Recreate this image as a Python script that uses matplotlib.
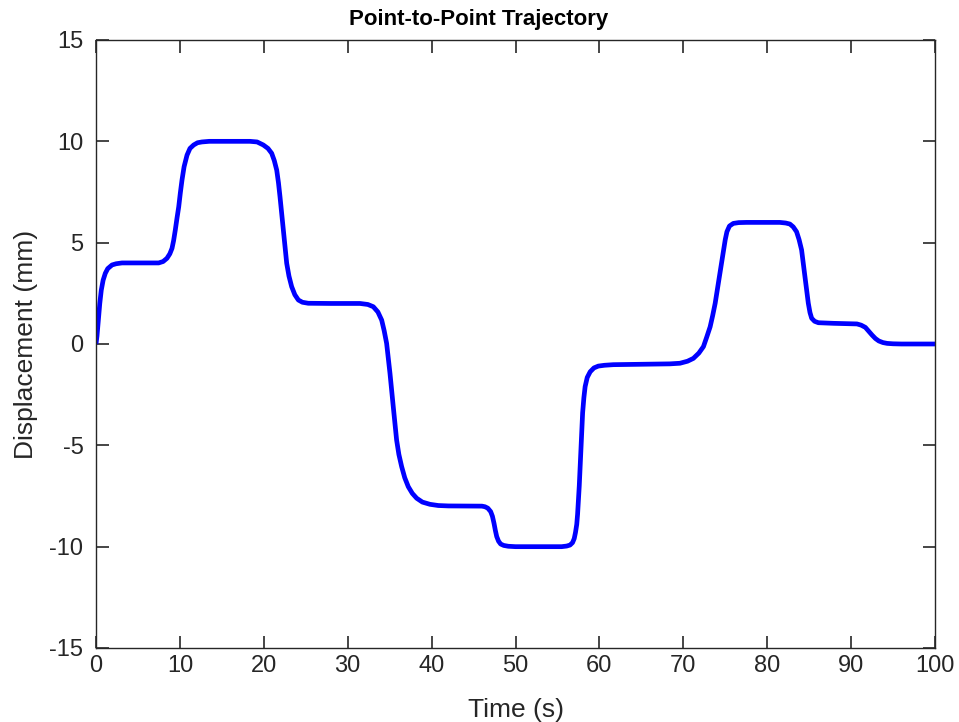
import matplotlib
matplotlib.use("Agg")
import matplotlib.pyplot as plt

# Time (s) and displacement (mm)
time_s = [0.0, 0.12, 0.2, 0.32, 0.45, 0.63, 0.85, 1.11, 1.4, 1.91, 2.4, 3.1, 5.0, 7.47,
          8.0, 8.46, 8.8, 9.06, 9.25, 9.45, 9.65, 9.86, 10.05, 10.25, 10.5, 10.85, 11.2,
          11.64, 12.1, 12.63, 13.5, 18.35, 19.2, 19.94, 20.5, 20.94, 21.25, 21.54, 21.75,
          21.93, 22.13, 22.33, 22.53, 22.73, 23.0, 23.32, 23.7, 24.12, 24.6, 25.3, 28.0,
          31.47, 32.4, 33.05, 33.6, 34.05, 34.35, 34.64, 34.84, 35.04, 35.23, 35.43, 35.63,
          35.83, 36.1, 36.43, 36.8, 37.22, 37.7, 38.22, 38.9, 39.8, 40.8, 42.0, 46.0, 46.36,
          46.7, 47.04, 47.25, 47.44, 47.6, 47.76, 47.98, 48.23, 48.6, 49.14, 50.0, 55.5,
          56.1, 56.5, 56.8, 57.0, 57.15, 57.3, 57.4, 57.5, 57.6, 57.7, 57.8, 57.9, 58.0,
          58.15, 58.3, 58.55, 58.9, 59.35, 59.87, 60.6, 61.66, 65.0, 68.4, 69.6, 70.5, 71.2,
          71.85, 72.4, 72.8, 73.2, 73.5, 73.8, 74.05, 74.3, 74.55, 74.8, 75.0, 75.2, 75.5,
          75.96, 76.6, 77.55, 81.5, 82.2, 82.7, 83.1, 83.5, 83.8, 84.1, 84.3, 84.5, 84.7,
          84.9, 85.1, 85.3, 85.65, 86.1, 87.9, 90.0, 90.7, 91.2, 91.7, 92.1, 92.5, 92.9,
          93.3, 93.8, 94.3, 95.0, 96.0, 100.0]
displacement_mm = [0.0, 0.4, 0.8, 1.35, 2.0, 2.66, 3.15, 3.49, 3.72, 3.9, 3.96, 4.0, 4.0, 4.0,
                   4.07, 4.23, 4.45, 4.72, 5.1, 5.62, 6.2, 6.77, 7.45, 8.09, 8.75, 9.32, 9.65,
                   9.82, 9.93, 9.97, 10.0, 10.0, 9.97, 9.82, 9.65, 9.41, 9.05, 8.58, 7.95,
                   7.27, 6.45, 5.62, 4.78, 3.98, 3.35, 2.83, 2.43, 2.17, 2.06, 2.01, 2.0,
                   2.0, 1.95, 1.84, 1.58, 1.18, 0.65, 0.03, -0.7, -1.45, -2.27, -3.09, -3.92,
                   -4.74, -5.45, -6.05, -6.6, -7.04, -7.37, -7.61, -7.8, -7.91, -7.97, -7.99, -8.0, -8.03,
                   -8.1, -8.27, -8.5, -8.85, -9.2, -9.5, -9.73, -9.87, -9.94, -9.98, -10.0, -10.0,
                   -9.97, -9.92, -9.8, -9.6, -9.3, -8.9, -8.4, -7.7, -7.0, -6.1, -5.2, -4.3, -3.4,
                   -2.65, -2.1, -1.65, -1.37, -1.18, -1.09, -1.05, -1.02, -1.0, -0.98, -0.95, -0.85, -0.71,
                   -0.45, -0.13, 0.35, 0.85, 1.4, 2.01, 2.65, 3.32, 3.98, 4.64, 5.15, 5.54, 5.82,
                   5.95, 5.99, 6.0, 6.0, 5.97, 5.92, 5.78, 5.54, 5.15, 4.64, 4.0, 3.32, 2.65,
                   2.01, 1.55, 1.27, 1.12, 1.05, 1.02, 1.0, 0.99, 0.93, 0.82, 0.63, 0.44, 0.27,
                   0.15, 0.07, 0.03, 0.01, 0.0, 0.0]

x_ticks = [0, 10, 20, 30, 40, 50, 60, 70, 80, 90, 100]
y_ticks = [-15, -10, -5, 0, 5, 10, 15]

plt.rcParams['font.family'] = ['Liberation Sans', 'DejaVu Sans']

fig = plt.figure(figsize=(9.59, 7.22), dpi=100)
ax = fig.add_axes([96/959, 1 - 648/722, (935-96)/959, (648-40)/722])

ax.plot(time_s, displacement_mm, color='#0000ff', linewidth=3.4,
        solid_joinstyle='round', solid_capstyle='butt')

ax.set_xlim(0, 100)
ax.set_ylim(-15, 15)
ax.set_xticks(x_ticks)
ax.set_yticks(y_ticks)
ax.set_xticklabels([str(v) for v in x_ticks])
ax.set_yticklabels([str(v) for v in y_ticks])

dark = '#262626'
for s in ax.spines.values():
    s.set_color(dark)
    s.set_linewidth(1.0)
ax.tick_params(direction='in', length=9, width=1.2, colors=dark, labelsize=17,
               top=True, right=True)
ax.tick_params(axis='y', pad=9)
ax.tick_params(axis='x', pad=5)

ax.set_xlabel('Time (s)', fontsize=19, color=dark, labelpad=15)
ax.set_ylabel('Displacement (mm)', fontsize=19, color=dark, labelpad=8)
fig.text(479/959, 1 - 19/722, 'Point-to-Point Trajectory', fontsize=16,
         fontweight='bold', color='black', ha='center', va='center')

fig.savefig('out.png', dpi=100)
